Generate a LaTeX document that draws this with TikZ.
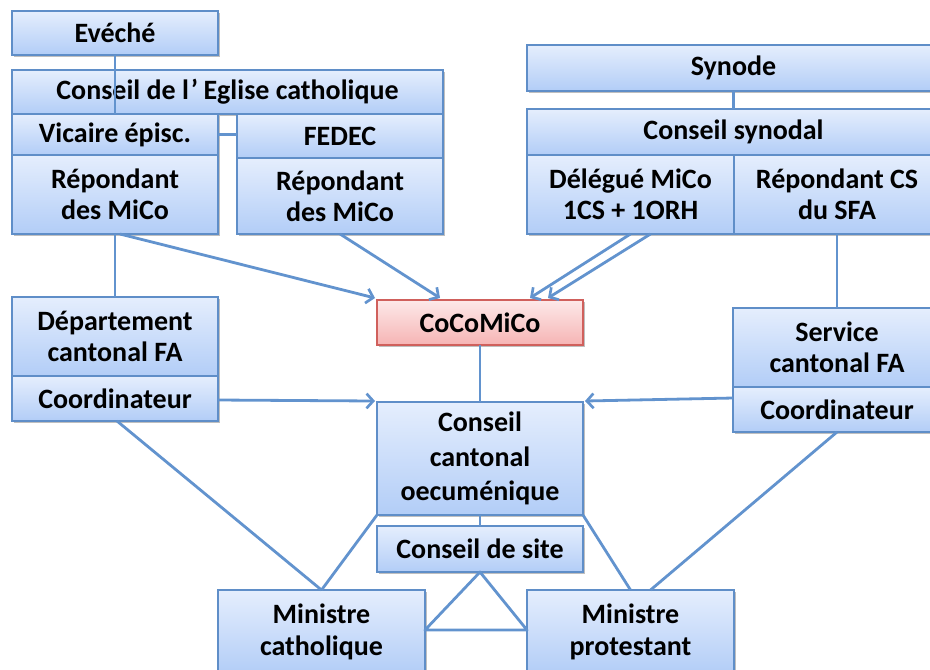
\documentclass[tikz,border=0pt]{standalone}
\usepackage{fontspec}
\setmainfont{Carlito}
\usetikzlibrary{arrows.meta,shadows,calc}
\definecolor{boxtop}{RGB}{229,238,253}
\definecolor{boxbot}{RGB}{178,205,247}
\definecolor{boxborder}{RGB}{95,142,200}
\definecolor{linecol}{RGB}{98,147,206}
\definecolor{redtop}{RGB}{253,233,233}
\definecolor{redbot}{RGB}{246,180,180}
\definecolor{redborder}{RGB}{208,96,92}
\tikzset{
  box/.style={draw=boxborder, line width=1.5pt, top color=boxtop, bottom color=boxbot,
    inner sep=0pt, outer sep=0pt, align=center,
    font=\fontsize{21}{23.5}\selectfont\bfseries,
    drop shadow={shadow xshift=1.2pt, shadow yshift=-1.2pt, opacity=0.25, fill=black}},
  redbox/.style={box, draw=redborder, top color=redtop, bottom color=redbot},
  link/.style={draw=linecol, line width=2.1pt},
  arr/.style={link, -{Straight Barb[length=5pt,width=11pt,line width=2pt]}}
}
\newcommand\mkbox[7][box]{%
  \node[#1, minimum width={(#5-#3)*0.75pt}, minimum height={(#6-#4)*0.75pt}]
    (#2) at ({(#3+#5)/2},{(#4+#6)/2}) {#7};}
\begin{document}
\begin{tikzpicture}[x=0.75pt,y=-0.75pt]
\useasboundingbox (0,0) rectangle (930,669);
\clip (0,0) rectangle (930,669);
% left column
\mkbox{eveche}{12}{11}{218}{55}{Evéché}
\mkbox{conscath}{12}{70}{443}{114}{Conseil de l\kern1.5pt’\kern4pt Eglise catholique}
\mkbox{vicaire}{12}{114}{218}{155}{Vicaire épisc.}
\mkbox{fedec}{237}{114}{443}{158}{FEDEC}
\mkbox{rep1}{12}{155}{218}{234}{Répondant\\des MiCo}
\mkbox{rep2}{237}{158}{443}{234}{Répondant\\des MiCo}
% right column
\mkbox{synode}{527}{45}{940}{91}{Synode}
\mkbox{consyn}{527}{109}{940}{155}{Conseil synodal}
\mkbox{deleg}{527}{155}{734}{234}{Délégué MiCo\\1CS + 1ORH}
\mkbox{repcs}{734}{155}{940}{234}{Répondant CS\\du SFA}
% middle
\mkbox{dept}{12}{297}{218}{376}{Département\\cantonal FA}
\mkbox{coordL}{12}{376}{218}{421}{Coordinateur}
\mkbox[redbox]{cocomico}{377}{300}{583}{345}{CoCoMiCo}
\mkbox{service}{733}{308}{941}{387}{Service\\cantonal FA}
\mkbox{coordR}{733}{387}{941}{432}{Coordinateur}
\mkbox{ccoec}{377}{402}{583}{515}{Conseil\\[2.5pt]cantonal\\[2.5pt]oecuménique}
\mkbox{site}{377}{526}{583}{572}{Conseil de site}
\mkbox{mincath}{218}{590}{425}{674}{Ministre\\catholique}
\mkbox{minprot}{527}{590}{734}{674}{Ministre\\protestant}
% connectors
\draw[link] (eveche.south) -- (eveche.south |- conscath.south);
\draw[link] (vicaire.east) -- (vicaire.east -| fedec.west);
\draw[link] (rep1.south) -- (dept.north);
\draw[link] (synode.south) -- (consyn.north);
\draw[link] (repcs.south) -- (service.north);
\draw[arr] ($(rep1.south)+(5,0)$) -- ($(cocomico.north west)+(-2,-2)$);
\draw[arr] (rep2.south) -- ($(cocomico.north west)+(63,-2)$);
\draw[arr] (deleg.south) -- ($(cocomico.north west)+(153,-2)$);
\draw[arr] ($(deleg.south)+(20,0)$) -- ($(cocomico.north west)+(171,-2)$);
\draw[link] (cocomico.south) -- (ccoec.north);
\draw[arr] ($(coordL.north east)+(0,24)$) -- ($(ccoec.north west)+(-2,-1)$);
\draw[arr] ($(coordR.north west)+(0,11)$) -- ($(ccoec.north east)+(2,-1)$);
\draw[link] (ccoec.south) -- (site.north);
\draw[link] (ccoec.south west) -- (mincath.north);
\draw[link] (ccoec.south east) -- (minprot.north);
\draw[link] ($(coordL.south)+(2,0)$) -- (mincath.north);
\draw[link] (coordR.south) -- ($(minprot.north)+(20,0)$);
\coordinate (tl) at ($(mincath.north east)+(0,40)$);
\coordinate (tr) at ($(minprot.north west)+(0,40)$);
\draw[link, line join=round] (site.south) -- (tl) -- (tr) -- cycle;
\end{tikzpicture}
\end{document}
